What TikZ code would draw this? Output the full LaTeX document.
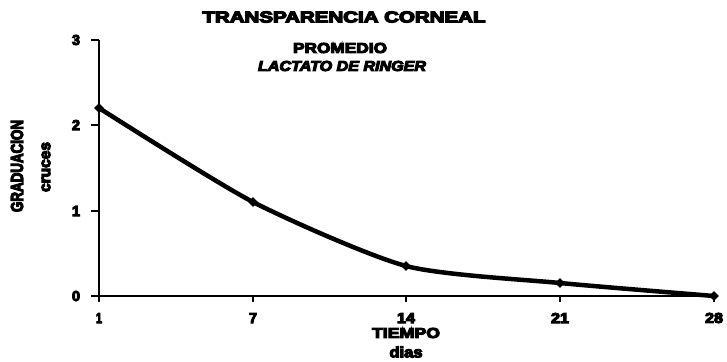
\documentclass[tikz,border=0pt]{standalone}
\usepackage{fontspec}
\usetikzlibrary{shapes.geometric}
\newfontfamily\blk{Liberation Sans Bold}[FakeBold=7]
\newfontfamily\blki{Liberation Sans Bold Italic}[FakeBold=7]
\newcommand{\fitbox}[3]{\resizebox{#1pt}{#2pt}{#3}}
\begin{document}
\begin{tikzpicture}[x=1pt,y=-1pt,
  lbl/.style={inner sep=0pt, anchor=center},
  axisline/.style={line width=2pt, black},
  tickline/.style={line width=1.2pt, black},
  curve/.style={line width=4.5pt, black, line join=round, line cap=round},
  mk/.style={diamond, fill=black, inner sep=0pt, minimum size=10pt}]
\useasboundingbox (0,0) rectangle (727,361);
% titles
\node[lbl] (title) at (344,17) {\fitbox{283}{11}{\blk TRANSPARENCIA CORNEAL}};
\node[lbl] (prom) at (340,48) {\fitbox{94}{10}{\blk PROMEDIO}};
\node[lbl] (lact) at (342,66) {\fitbox{168}{10}{\blki LACTATO DE RINGER}};
% axes
\coordinate (o) at (99,296);
\coordinate (ytop) at (99,40);
\coordinate (xend) at (714,296);
\draw[axisline] (ytop) -- (o) -- (xend);
% y ticks
\foreach \v/\yy in {0/296,1/211,2/125,3/40}{
  \coordinate (yt\v) at (99,\yy);
  \coordinate (ytl\v) at (91,\yy);
  \draw[tickline] (yt\v) -- (ytl\v);
  \node[lbl] (yl\v) at (76,\yy) {\fitbox{8}{10}{\blk \v}};
}
% x ticks
\foreach \v/\xx/\w in {1/99/6,7/253/8,14/406/18,21/560/18,28/714/18}{
  \coordinate (xt\v) at (\xx,296);
  \coordinate (xtl\v) at (\xx,302);
  \draw[tickline] (xt\v) -- (xtl\v);
  \node[lbl] (xl\v) at (\xx,318) {\fitbox{\w}{10}{\blk \v}};
}
% axis titles
\node[lbl] (xt) at (406,333) {\fitbox{68}{10}{\blk TIEMPO}};
\node[lbl] (xu) at (406,352) {\fitbox{33}{11}{\blk dias}};
\node[lbl, rotate=90] (yt) at (17,166) {\fitbox{92}{12}{\blk GRADUACION}};
\node[lbl, rotate=90] (yu) at (46,167) {\fitbox{50}{8.5}{\blk cruces}};
% data
\coordinate (p1) at (99,108);
\coordinate (p7) at (253,202);
\coordinate (p14) at (406,266);
\coordinate (p21) at (560,283);
\coordinate (p28) at (714,296);
\draw[curve] plot[smooth, tension=0.4] coordinates {(p1) (p7) (p14) (p21) (p28)};
\foreach \p in {p1,p7,p14,p21,p28}{
  \node[mk] (m\p) at (\p) {};
}
\end{tikzpicture}
\end{document}
